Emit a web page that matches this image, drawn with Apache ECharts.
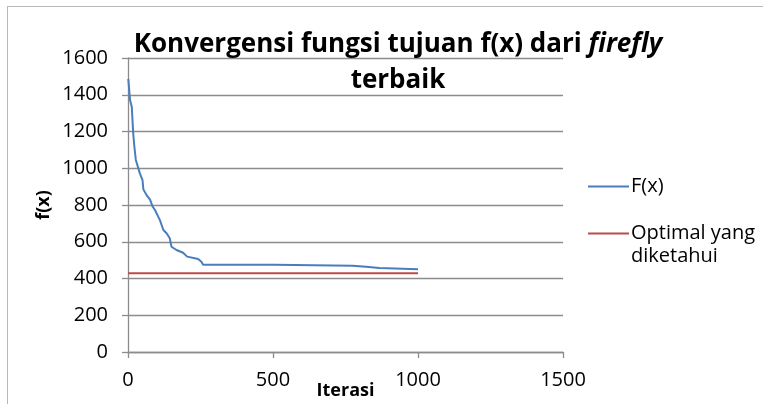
<!DOCTYPE html>
<html>
<head>
<meta charset="utf-8">
<script src="https://cdn.jsdelivr.net/npm/echarts@6/dist/echarts.min.js"></script>
<style>
html,body{margin:0;padding:0;background:#fff;overflow:hidden;width:763px;height:404px;}
#frame{position:absolute;left:7px;top:6px;width:756px;height:398px;border-left:1.5px solid #b8b8b8;border-top:1.5px solid #b8b8b8;box-sizing:border-box;}
#chart{position:absolute;left:0;top:0;width:763px;height:404px;}
</style>
</head>
<body>
<div id="frame"></div>
<div id="chart"></div>
<script>
// Best firefly convergence f(x)
const fxIter = [1, 7, 13, 18, 22, 27, 41, 50, 53, 64, 76, 85, 93, 110, 122, 133, 144, 150, 167, 190, 204, 242, 253, 259, 506, 508, 775, 777, 821, 823, 867, 869, 1000];
const fxVal  = [1486, 1371, 1335, 1190, 1117, 1045, 972, 936, 885, 854, 829, 791, 773, 718, 664, 646, 619, 573, 555, 540, 519, 506, 491, 475, 475, 470, 470, 464, 464, 457, 457, 450, 450];
// Known optimum
const optIter = [0, 1000];
const optVal  = [428, 428];
const xTicks = [0, 500, 1000, 1500];
const yTicks = [0, 200, 400, 600, 800, 1000, 1200, 1400, 1600];
const seriesNames = ['F(x)', 'Optimal yang diketahui'];

const font = '"Open Sans", sans-serif';
const gray = '#8c8c8c';

const chart = echarts.init(document.getElementById('chart'), null, {renderer: 'canvas', width: 763, height: 404});
chart.setOption({
  animation: false,
  backgroundColor: 'transparent',
  title: [
    {
      text: '{a|Konvergensi fungsi tujuan f(x) dari }{b|firefly}',
      left: 393, top: 27, textAlign: 'center',
      textStyle: {
        rich: {
          a: {fontFamily: font, fontWeight: 'bold', fontSize: 26, color: '#000'},
          b: {fontFamily: font, fontWeight: 'bold', fontStyle: 'italic', fontSize: 26, color: '#000'}
        }
      }
    },
    {
      text: 'terbaik',
      left: 393, top: 63, textAlign: 'center',
      textStyle: {fontFamily: font, fontWeight: 'bold', fontSize: 26, color: '#000'}
    }
  ],
  grid: {left: 128, right: 200, top: 58, bottom: 52, containLabel: false, outerBoundsMode: 'none'},
  legend: {
    orient: 'vertical',
    left: 583, top: 170,
    itemGap: 1,
    itemWidth: 41, itemHeight: 2,
    icon: 'rect',
    data: seriesNames,
    formatter: function (n) { return n === seriesNames[1] ? '\nOptimal yang\ndiketahui' : n; },
    textStyle: {fontFamily: font, fontSize: 20, color: '#000', lineHeight: 23, padding: [0,0,0,-3]}
  },
  xAxis: {
    type: 'value', min: xTicks[0], max: xTicks[xTicks.length - 1], interval: 500,
    name: 'Iterasi', nameLocation: 'middle', nameGap: 30, nameMoveOverlap: false,
    nameTextStyle: {fontFamily: font, fontWeight: 'bold', fontSize: 18, color: '#000'},
    axisLine: {show: true, lineStyle: {color: gray, width: 1.3}},
    axisTick: {show: true, inside: false, length: 6, lineStyle: {color: gray, width: 1.3}},
    axisLabel: {fontFamily: font, fontSize: 20, color: '#000', margin: 18, formatter: v => String(v)},
    splitLine: {show: false}
  },
  yAxis: {
    type: 'value', min: yTicks[0], max: yTicks[yTicks.length - 1], interval: 200,
    name: 'f(x)', nameLocation: 'middle', nameGap: 75, nameRotate: 90, nameMoveOverlap: false,
    nameTextStyle: {fontFamily: font, fontWeight: 'bold', fontSize: 18, color: '#000'},
    axisLine: {show: true, lineStyle: {color: gray, width: 1.3}},
    axisTick: {show: true, inside: false, length: 6, lineStyle: {color: gray, width: 1.3}},
    axisLabel: {fontFamily: font, fontSize: 20, color: '#000', margin: 20, formatter: v => String(v)},
    splitLine: {show: true, lineStyle: {color: gray, width: 1.3}}
  },
  series: [
    {
      name: seriesNames[0], type: 'line', showSymbol: false, symbol: 'none',
      data: fxIter.map((x, i) => [x, fxVal[i]]),
      lineStyle: {color: '#4a7ebb', width: 2}, itemStyle: {color: '#4a7ebb'}, z: 3
    },
    {
      name: seriesNames[1], type: 'line', showSymbol: false, symbol: 'none',
      data: optIter.map((x, i) => [x, optVal[i]]),
      lineStyle: {color: '#be4b48', width: 2}, itemStyle: {color: '#be4b48'}, z: 2
    }
  ]
});
</script>
</body>
</html>
